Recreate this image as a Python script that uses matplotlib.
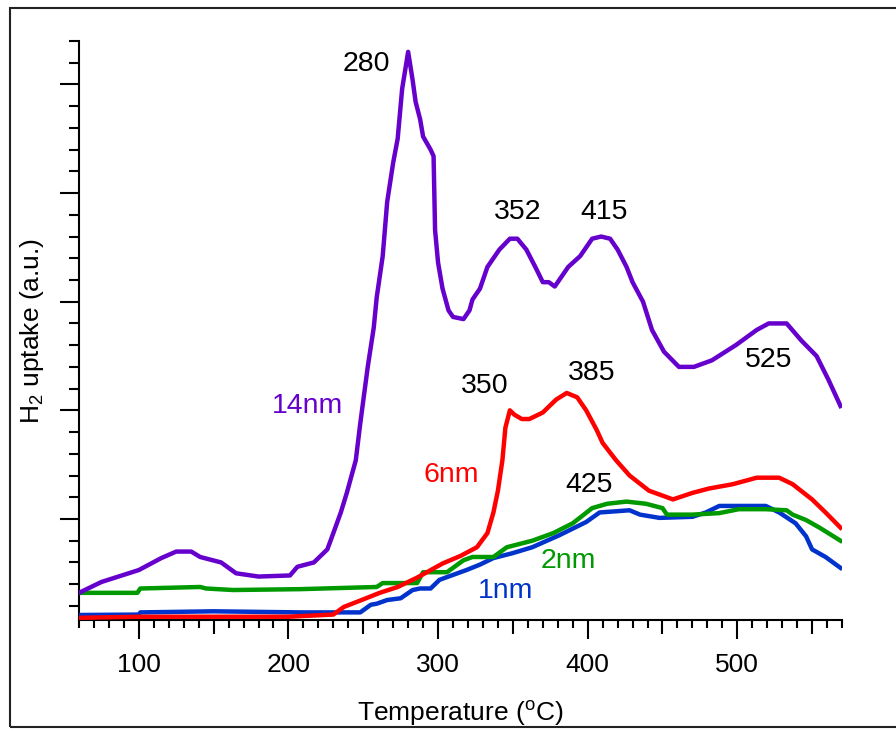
import matplotlib
matplotlib.use('Agg')
import matplotlib.pyplot as plt
from matplotlib.patches import Rectangle
from matplotlib.ticker import MultipleLocator, NullFormatter

plt.rcParams['font.family'] = ['Liberation Sans', 'DejaVu Sans']
plt.rcParams['mathtext.default'] = 'regular'

######################### Data #########################

# 14nm (purple)
t_14 = [60, 75, 100, 115, 125, 135, 141, 155, 165, 180, 201, 206, 217, 226, 230,
        235, 239, 245, 248, 253, 257, 259, 263, 266, 270, 273, 276, 280, 283, 285,
        288, 290, 295, 297, 298, 300, 303, 307, 310, 317, 321, 323, 328, 333, 341,
        348, 353, 359, 365, 370, 374, 378, 383, 387, 395, 403, 409, 415, 420, 426,
        430, 437, 443, 451, 461, 471, 483, 499, 513, 521, 533, 543, 553, 561, 569]
h_14 = [1.6, 2.1, 2.65, 3.2, 3.5, 3.5, 3.25, 3.0, 2.5, 2.35, 2.4, 2.8, 3.0, 3.6, 4.35,
        5.3, 6.2, 7.7, 9.4, 12.0, 13.8, 15.2, 17.1, 19.6, 21.4, 22.5, 24.8, 26.5, 25.2, 24.2,
        23.4, 22.6, 22.0, 21.7, 18.3, 16.8, 15.6, 14.6, 14.3, 14.2, 14.6, 15.1, 15.6, 16.6, 17.4,
        17.9, 17.9, 17.4, 16.6, 15.9, 15.9, 15.7, 16.2, 16.6, 17.1, 17.9, 18.0, 17.9, 17.4, 16.6,
        15.9, 15.0, 13.7, 12.7, 12.0, 12.0, 12.3, 13.0, 13.7, 14.0, 14.0, 13.2, 12.5, 11.4, 10.2]

# 6nm (red)
t_6 = [60, 100, 150, 200, 230, 237, 250, 261, 273, 286, 303, 315, 326, 333, 337,
       340, 343, 345, 348, 351, 356, 361, 370, 379, 386, 393, 399, 406, 410, 419,
       428, 441, 457, 470, 481, 497, 513, 528, 537, 550, 559, 569]
h_6 = [0.45, 0.5, 0.5, 0.5, 0.6, 0.95, 1.3, 1.6, 1.87, 2.3, 2.95, 3.3, 3.7, 4.35, 5.3,
       6.3, 7.7, 9.2, 10.0, 9.8, 9.6, 9.6, 9.9, 10.5, 10.8, 10.6, 10.0, 9.1, 8.5, 7.7,
       7.0, 6.3, 5.9, 6.2, 6.4, 6.6, 6.9, 6.9, 6.6, 5.9, 5.3, 4.6]

# 2nm (green)
t_2 = [60, 99, 101, 141, 145, 163, 208, 259, 263, 286, 290, 306, 317, 323, 337,
       346, 363, 377, 390, 403, 413, 426, 439, 450, 453, 470, 488, 501, 519, 533,
       537, 546, 555, 569]
h_2 = [1.6, 1.6, 1.8, 1.87, 1.8, 1.73, 1.77, 1.87, 2.05, 2.05, 2.55, 2.55, 3.1, 3.25, 3.25,
       3.7, 4.0, 4.35, 4.8, 5.5, 5.7, 5.8, 5.7, 5.5, 5.2, 5.2, 5.27, 5.45, 5.45, 5.4,
       5.2, 4.95, 4.6, 4.0]

# 1nm (blue)
t_1 = [60, 100, 101, 150, 208, 248, 255, 259, 266, 275, 283, 288, 295, 301, 319,
       328, 337, 350, 363, 381, 399, 408, 428, 435, 448, 470, 479, 488, 519, 528,
       539, 546, 550, 559, 569]
h_1 = [0.58, 0.6, 0.7, 0.75, 0.7, 0.7, 1.05, 1.1, 1.27, 1.35, 1.73, 1.8, 1.8, 2.2, 2.65,
       2.9, 3.2, 3.43, 3.7, 4.25, 4.86, 5.3, 5.4, 5.2, 5.05, 5.1, 5.3, 5.6, 5.6, 5.3,
       4.8, 4.2, 3.6, 3.25, 2.75]

# peak labels (text, x, y baseline)
peak_text = ['280', '352', '415', '525', '350', '385', '425']
peak_x = [252, 353, 411, 521, 331, 403, 401]
peak_y = [25.6, 18.8, 18.8, 12.0, 10.8, 11.4, 6.24]

# series labels
size_text = ['14nm', '6nm', '2nm', '1nm']
size_x = [213, 309, 387, 345]
size_y = [9.9, 6.7, 2.74, 1.36]

c_14, c_6, c_2, c_1 = '#6600cc', '#ff0000', '#009900', '#0033cc'
size_col = [c_14, c_6, c_2, c_1]

######################### Plot #########################

fig = plt.figure(figsize=(8.96, 7.31), dpi=100)
rect = [79 / 896, 1 - 620 / 731, (842 - 79) / 896, (620 - 41) / 731]
ax = fig.add_axes(rect)

lw = 3.2
ax.plot(t_1, h_1, color=c_1, lw=lw, zorder=3)
ax.plot(t_6, h_6, color=c_6, lw=lw, zorder=4)
ax.plot(t_2, h_2, color=c_2, lw=lw, zorder=3)
ax.plot(t_14, h_14, color=c_14, lw=lw, zorder=3)

for s, x, y in zip(peak_text, peak_x, peak_y):
    ax.text(x, y, s, fontsize=20.5, ha='center', va='baseline', color='black')
for s, x, y, c in zip(size_text, size_x, size_y, size_col):
    ax.text(x, y, s, fontsize=20.5, ha='center', va='baseline', color=c)

ax.set_xlim(60, 570)
ax.set_ylim(0.35, 27.0)

for side in ['top', 'right']:
    ax.spines[side].set_visible(False)
for side in ['left', 'bottom']:
    ax.spines[side].set_linewidth(1.5)

ax.xaxis.set_major_locator(MultipleLocator(100))
ax.xaxis.set_minor_locator(MultipleLocator(10))
ax.yaxis.set_major_locator(MultipleLocator(5))
ax.yaxis.set_minor_locator(MultipleLocator(1))
ax.yaxis.set_major_formatter(NullFormatter())

ax.tick_params(axis='x', which='major', direction='out', length=13.5, width=1.5,
               labelsize=19, pad=10)
ax.tick_params(axis='x', which='minor', direction='out', length=6, width=1.5)
ax.tick_params(axis='y', which='major', direction='out', length=14, width=1.5)
ax.tick_params(axis='y', which='minor', direction='out', length=7, width=1.5)

ax.set_xlabel('Temperature ($^{o}$C)', fontsize=19, labelpad=16)
ax.set_ylabel('H$_2$ uptake (a.u.)', fontsize=19, labelpad=6)

# medium-length ticks at the 50s
fig.canvas.draw()
for tick in ax.xaxis.get_minor_ticks():
    if abs(tick.get_loc() % 100 - 50) < 1e-6:
        tick.tick1line.set_markersize(10)

# outer frame
fig.patches.append(Rectangle((10 / 896, 1 - 727 / 731), 0.999, (727 - 8) / 731,
                             transform=fig.transFigure, fill=False,
                             edgecolor='#222222', lw=1.5))

fig.savefig('out.png', dpi=100)
